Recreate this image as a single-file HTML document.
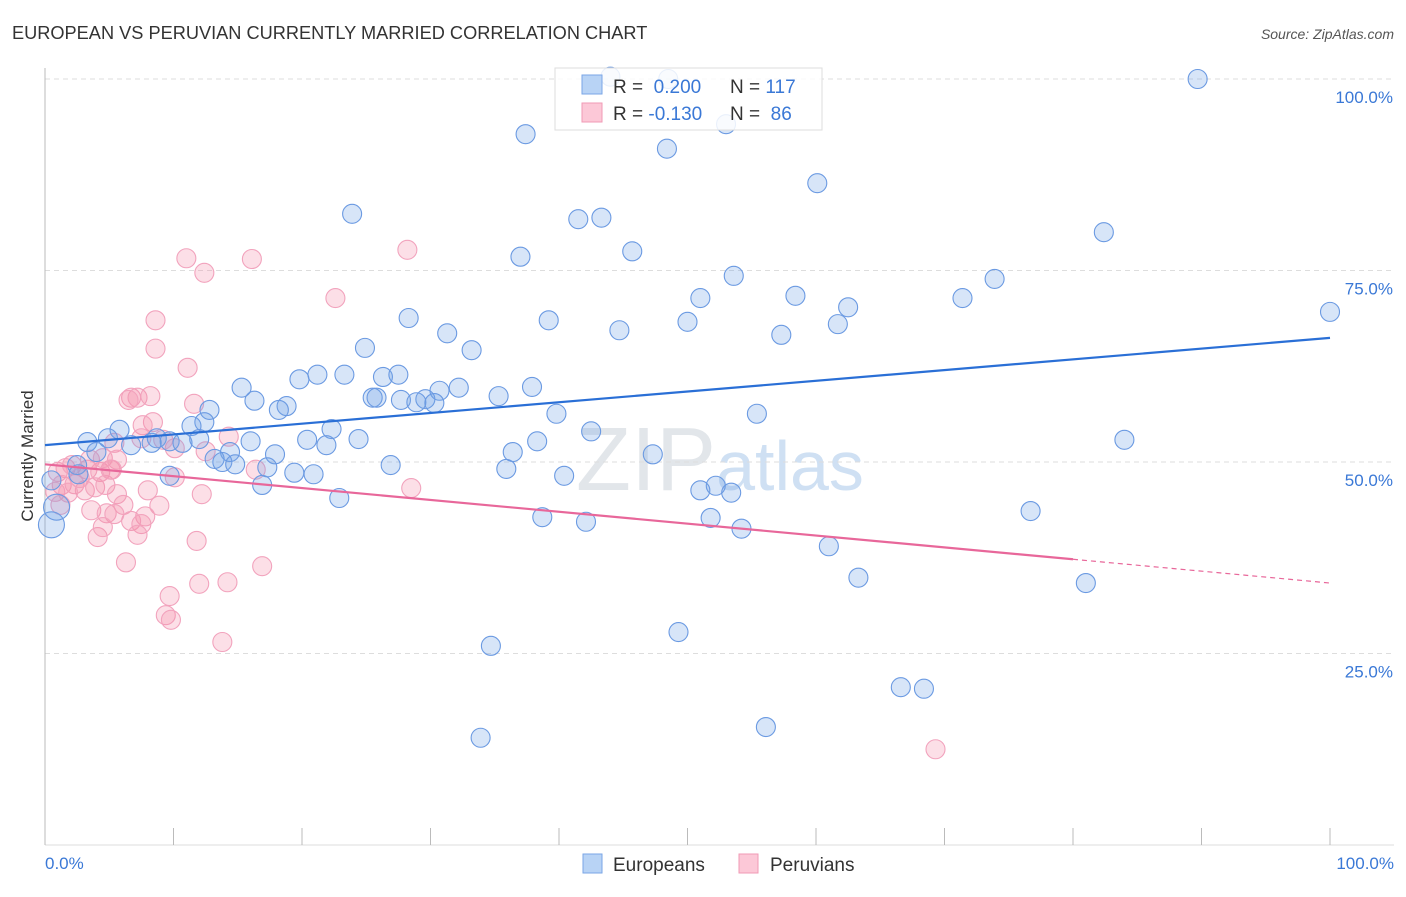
<!DOCTYPE html>
<html><head><meta charset="utf-8"><style>
body{margin:0;background:#fff;font-family:"Liberation Sans",sans-serif}
svg text{font-family:"Liberation Sans",sans-serif}
</style></head><body>
<svg id="c" width="1406" height="892" xmlns="http://www.w3.org/2000/svg">
<text x="12" y="39" font-size="18.2" fill="#333">EUROPEAN VS PERUVIAN CURRENTLY MARRIED CORRELATION CHART</text>
<text x="1394" y="39" font-size="14" fill="#555" font-style="italic" text-anchor="end">Source: ZipAtlas.com</text>
<text x="720" y="490" font-size="90" fill="#e2e6ea" text-anchor="middle" font-family="Liberation Serif">ZIP<tspan font-family="Liberation Sans" font-size="70" fill="#cfe0f3">atlas</tspan></text>
<g id="grid"></g><g id="pts"></g><g id="lines"></g>
<text transform="translate(33,456) rotate(-90)" font-size="17" fill="#333" text-anchor="middle">Currently Married</text>
<text x="45" y="869" font-size="17" fill="#3a78d6">0.0%</text>
<text x="1394" y="869" font-size="17" fill="#3a78d6" text-anchor="end">100.0%</text>
<g>
<rect x="555" y="68" width="267" height="62" fill="#fff" fill-opacity="0.85" stroke="#ddd"/>
<rect x="582" y="75" width="20" height="19" fill="#b8d3f5" stroke="#7aa6e6"/>
<rect x="582" y="103" width="20" height="19" fill="#fcc8d7" stroke="#f09ab5"/>
<text x="613" y="93" font-size="19" fill="#333">R = <tspan fill="#3a78d6">&#160;0.200</tspan><tspan x="730">N = </tspan><tspan fill="#3a78d6">117</tspan></text>
<text x="613" y="120" font-size="19" fill="#333">R = <tspan fill="#3a78d6">-0.130</tspan><tspan x="730">N = </tspan><tspan fill="#3a78d6">&#160;86</tspan></text>
</g>
<g>
<rect x="583" y="854" width="19" height="19" fill="#b8d3f5" stroke="#7aa6e6"/>
<text x="613" y="871" font-size="19" fill="#333">Europeans</text>
<rect x="739" y="854" width="19" height="19" fill="#fcc8d7" stroke="#f09ab5"/>
<text x="770" y="871" font-size="19" fill="#333">Peruvians</text>
</g>
</svg>
<script>
const yTicks=[25,50,75,100];
const yTickLabels=["25.0%","50.0%","75.0%","100.0%"];
const xTicks=[0,10,20,30,40,50,60,70,80,90,100];
const euroX=[89.7,37.4,48.4,53.0,60.1,23.9,41.5,43.3,82.4,37.0,45.7,53.6,73.9,51.0,58.4,71.4,62.5,100,28.3,39.2,50.0,61.7,44.7,31.3,57.3,24.9,33.2,19.8,21.2,23.3,26.3,27.5,15.3,32.2,37.9,30.7,25.5,25.8,27.7,29.6,30.3,28.9,35.3,16.3,18.8,18.2,12.8,12.4,39.8,55.4,11.4,22.3,42.5,5.8,84.0,3.3,4.9,8.7,9.7,10.7,12.0,16.0,20.4,24.4,38.3,21.9,6.7,8.3,4.0,14.4,17.9,36.4,47.3,13.2,13.8,14.8,17.3,26.9,35.9,19.4,20.9,9.7,40.4,2.5,2.6,16.9,52.2,51.0,53.4,22.9,76.7,38.7,42.1,51.8,54.2,61.0,63.3,81.0,0.5,0.9,0.5,49.3,34.7,66.6,68.4,56.1,33.9,44.0,48.5];
const euroY=[100,92.8,90.9,94.1,86.4,82.4,81.7,81.9,80.0,76.8,77.5,74.3,73.9,71.4,71.7,71.4,70.2,69.6,68.8,68.5,68.3,68.0,67.2,66.8,66.6,64.9,64.6,60.8,61.4,61.4,61.1,61.4,59.7,59.7,59.8,59.3,58.4,58.4,58.1,58.2,57.7,57.8,58.6,58.0,57.3,56.8,56.8,55.2,56.3,56.3,54.7,54.3,54.0,54.2,52.9,52.6,53.1,53.1,52.7,52.5,53.0,52.7,52.9,53.0,52.7,52.2,52.2,52.5,51.3,51.3,51.0,51.3,51.0,50.4,50.0,49.7,49.3,49.6,49.1,48.6,48.4,48.2,48.2,49.6,48.4,47.0,46.9,46.3,46.0,45.3,43.6,42.8,42.2,42.7,41.3,39.0,34.9,34.2,41.8,44.1,47.6,27.8,26.0,20.6,20.4,15.4,14.0,100.3,100];
const peruX=[28.2,11.0,16.1,12.4,22.6,8.6,8.6,11.1,6.7,7.2,8.2,6.5,11.6,8.4,7.6,14.3,10.1,5.4,12.5,7.5,9.2,1.0,1.6,2.1,3.3,4.3,5.1,1.3,2.3,3.1,3.9,0.8,1.8,2.7,4.7,3.5,4.5,5.6,5.2,16.4,28.5,8.0,12.2,5.6,3.6,4.8,6.1,8.9,7.8,6.7,7.5,5.4,4.1,4.5,7.2,11.8,6.3,16.9,9.7,14.2,12.0,9.4,9.8,13.8,69.3,10.1,1.2];
const peruY=[77.7,76.6,76.5,74.7,71.4,68.5,64.8,62.3,58.4,58.4,58.6,58.1,57.6,55.2,54.8,53.3,51.8,52.5,51.4,53.1,52.9,48.7,49.2,49.6,49.0,48.7,49.0,47.0,47.1,46.3,46.7,46.1,46.0,47.9,47.0,50.3,50.5,50.3,49.0,49.0,46.6,46.3,45.8,45.8,43.7,43.3,44.4,44.3,42.9,42.3,41.9,43.2,40.2,41.5,40.5,39.7,36.9,36.4,32.5,34.3,34.1,30.0,29.4,26.5,12.5,48.0,44.4];
const euroTrend=[52.2,66.2];
const peruTrend=[49.7,37.3,34.2];
const X0=45,X1=1330,Y0=845,Y100=79;
const sx=v=>X0+(X1-X0)*v/100;
const sy=v=>Y0-(Y0-Y100)*v/100;
const NS="http://www.w3.org/2000/svg";
function mk(t,a,p){const e=document.createElementNS(NS,t);for(const k in a)e.setAttribute(k,a[k]);p.appendChild(e);return e;}
const g=document.getElementById('grid');
yTicks.forEach((v,i)=>{
 const l=mk('line',{x1:X0,x2:1394,y1:sy(v),y2:sy(v),stroke:'#ddd','stroke-dasharray':'5,4'},g);
 
 
 const t=mk('text',{x:1393,y:sy(v)+24,'font-size':17,fill:'#3a78d6','text-anchor':'end'},g);
 t.textContent=yTickLabels[i];
 
 
});
const ax=mk('line',{x1:X0,x2:X0,y1:68,y2:Y0,stroke:'#bbb'},g);


const bx=mk('line',{x1:X0,x2:1394,y1:Y0,y2:Y0,stroke:'#ddd'},g);


xTicks.forEach(v=>{
 const t=mk('line',{x1:sx(v),x2:sx(v),y1:828,y2:Y0,stroke:'#bbb'},g);
 
 
});
const P=document.getElementById('pts');
peruX.forEach((x,i)=>{
 const c=mk('circle',{cx:sx(x),cy:sy(peruY[i]),r:9.5,fill:'rgba(245,140,170,0.28)',stroke:'#f2a3bd','stroke-width':1.1},P);
 
 
});
euroX.forEach((x,i)=>{
 const big=(x<1.5&&euroY[i]<45);
 const c=mk('circle',{cx:sx(x),cy:sy(euroY[i]),r:big?13:9.5,fill:'rgba(110,160,230,0.28)',stroke:'#6b9ae2','stroke-width':1.1},P);
 
 
});
const L=document.getElementById('lines');
const bl=mk('line',{x1:sx(0),y1:sy(euroTrend[0]),x2:sx(100),y2:sy(euroTrend[1]),stroke:'#2a6fd6','stroke-width':2.2},L);


const pl=mk('line',{x1:sx(0),y1:sy(peruTrend[0]),x2:sx(80),y2:sy(peruTrend[1]),stroke:'#e8679a','stroke-width':2.2},L);


const pd=mk('line',{x1:sx(80),y1:sy(peruTrend[1]),x2:sx(100),y2:sy(peruTrend[2]),stroke:'#e8679a','stroke-width':1.2,'stroke-dasharray':'5,4'},L);


</script>
</body></html>
